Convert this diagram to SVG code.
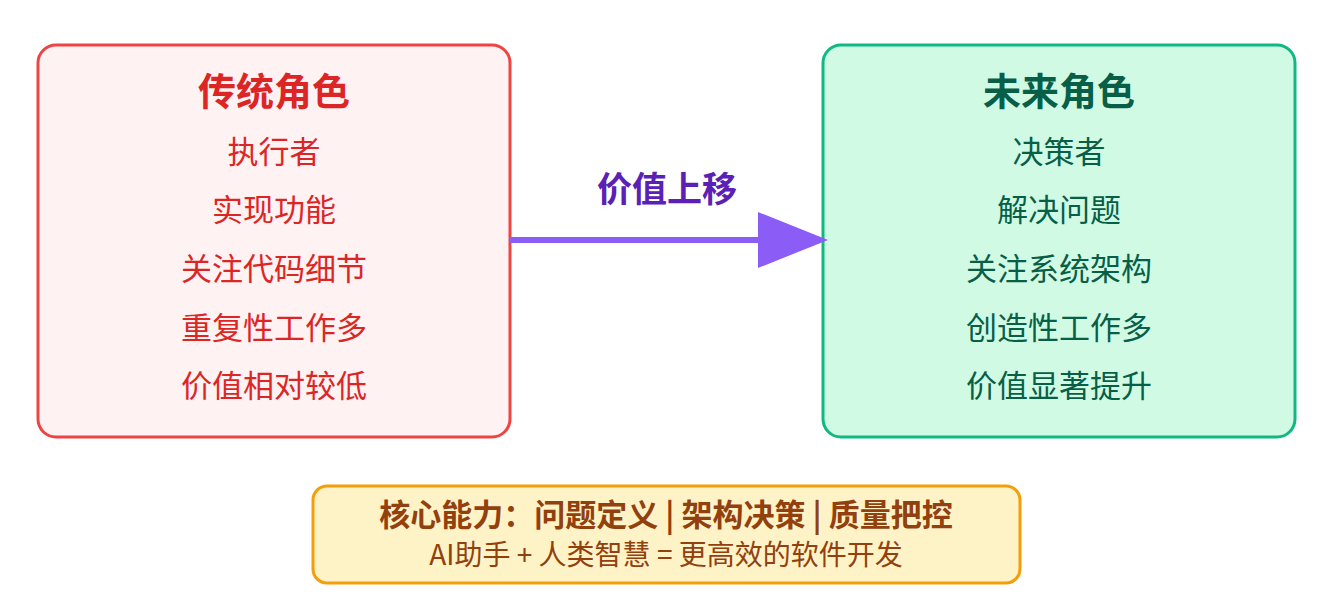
<svg xmlns="http://www.w3.org/2000/svg" width="1330" height="606" viewBox="0 0 1330 606">
<style>
text{font-family:"Noto Sans CJK SC","Liberation Sans",sans-serif;text-anchor:middle}
.t{font-size:38px;font-weight:bold}
.i{font-size:31px}
.l text{fill:#dc2626}
.r text{fill:#065f46}
</style>
<rect width="1330" height="606" fill="#fff"/>
<g id="traditional" class="l">
<rect x="38" y="45" width="472" height="392" rx="18" fill="#fef2f2" stroke="#ef4444" stroke-width="3"/>
<text class="t" x="274" y="105">传统角色</text>
<text class="i" x="274" y="163">执行者</text>
<text class="i" x="274" y="221">实现功能</text>
<text class="i" x="274" y="280">关注代码细节</text>
<text class="i" x="274" y="339">重复性工作多</text>
<text class="i" x="274" y="397">价值相对较低</text>
</g>
<g id="future" class="r">
<rect x="823" y="45" width="472" height="392" rx="18" fill="#d1fae5" stroke="#10b981" stroke-width="3"/>
<text class="t" x="1059" y="105">未来角色</text>
<text class="i" x="1059" y="163">决策者</text>
<text class="i" x="1059" y="221">解决问题</text>
<text class="i" x="1059" y="280">关注系统架构</text>
<text class="i" x="1059" y="339">创造性工作多</text>
<text class="i" x="1059" y="397">价值显著提升</text>
</g>
<g id="connectors">
<line x1="510" y1="240" x2="762" y2="240" stroke="#8b5cf6" stroke-width="6"/>
<polygon points="758,212 828,240 758,268" fill="#8b5cf6"/>
<text x="667" y="202" font-size="35" font-weight="bold" fill="#5b21b6">价值上移</text>
</g>
<g id="summary">
<rect x="313" y="486" width="707" height="97" rx="14" fill="#fef3c7" stroke="#f59e0b" stroke-width="3"/>
<text x="666" y="526" font-size="31" font-weight="bold" fill="#92400e">核心能力：问题定义 | 架构决策 | 质量把控</text>
<text x="666" y="565" font-size="28" fill="#92400e">AI助手 + 人类智慧 = 更高效的软件开发</text>
</g>
</svg>
